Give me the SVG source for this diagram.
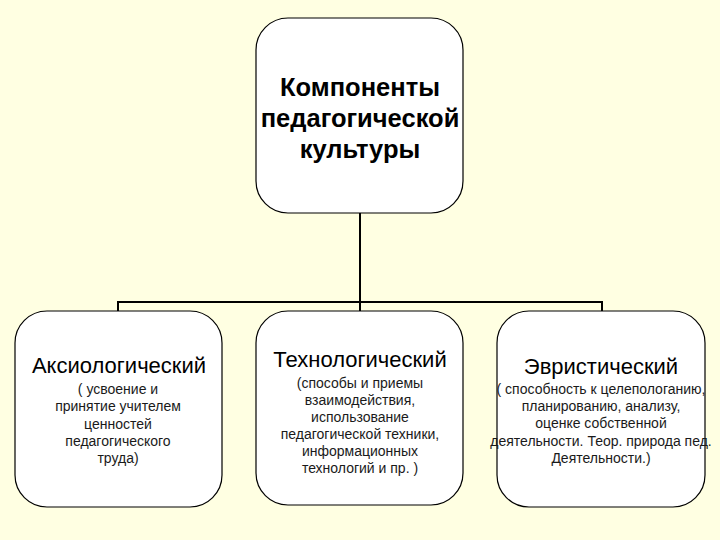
<svg xmlns="http://www.w3.org/2000/svg" width="720" height="540" viewBox="0 0 720 540">
<style>
.box{fill:#ffffff;stroke:#000;stroke-width:1.2}
.conn{fill:none;stroke:#000;stroke-width:2}
.title{font-family:"Liberation Sans",Arial,sans-serif;font-weight:bold;font-size:25.5px;fill:#000;text-anchor:middle}
.head{font-family:"Liberation Sans",Arial,sans-serif;font-size:22px;fill:#000;text-anchor:middle}
.desc{font-family:"Liberation Sans",Arial,sans-serif;font-size:14px;fill:#1a1a1a;text-anchor:middle}
</style>
<rect x="0" y="0" width="720" height="540" fill="#ffffe2"/>
<g id="connectors">
<path class="conn" d="M360,213 V302 M118,311 V302 H602 V311 M360,302 V311"/>
</g>
<g id="root">
<rect class="box" x="256" y="18" width="207" height="195" rx="32" ry="32"/>
<text class="title" x="360" y="96">Компоненты</text>
<text class="title" x="360" y="127">педагогической</text>
<text class="title" x="360" y="158">культуры</text>
</g>
<g id="axio">
<rect class="box" x="15" y="311" width="207" height="196" rx="32" ry="32"/>
<text class="head" x="119" y="373">Аксиологический</text>
<text class="desc" x="118" y="394">( усвоение и</text>
<text class="desc" x="118" y="411">принятие учителем</text>
<text class="desc" x="118" y="429">ценностей</text>
<text class="desc" x="118" y="446">педагогического</text>
<text class="desc" x="118" y="463">труда)</text>
</g>
<g id="tech">
<rect class="box" x="256" y="311" width="207" height="194" rx="32" ry="32"/>
<text class="head" x="360" y="367">Технологический</text>
<text class="desc" x="360" y="388">(способы и приемы</text>
<text class="desc" x="360" y="405">взаимодействия,</text>
<text class="desc" x="360" y="422">использование</text>
<text class="desc" x="360" y="439">педагогической техники,</text>
<text class="desc" x="360" y="456">информационных</text>
<text class="desc" x="360" y="473">технологий и пр. )</text>
</g>
<g id="heur">
<rect class="box" x="497" y="311" width="208" height="196" rx="32" ry="32"/>
<text class="head" x="601" y="374">Эвристический</text>
<text class="desc" x="601" y="394">( способность к целепологанию,</text>
<text class="desc" x="601" y="411">планированию, анализу,</text>
<text class="desc" x="601" y="428">оценке собственной</text>
<text class="desc" x="601" y="446">деятельности. Теор. природа пед.</text>
<text class="desc" x="601" y="463">Деятельности.)</text>
</g>
</svg>
